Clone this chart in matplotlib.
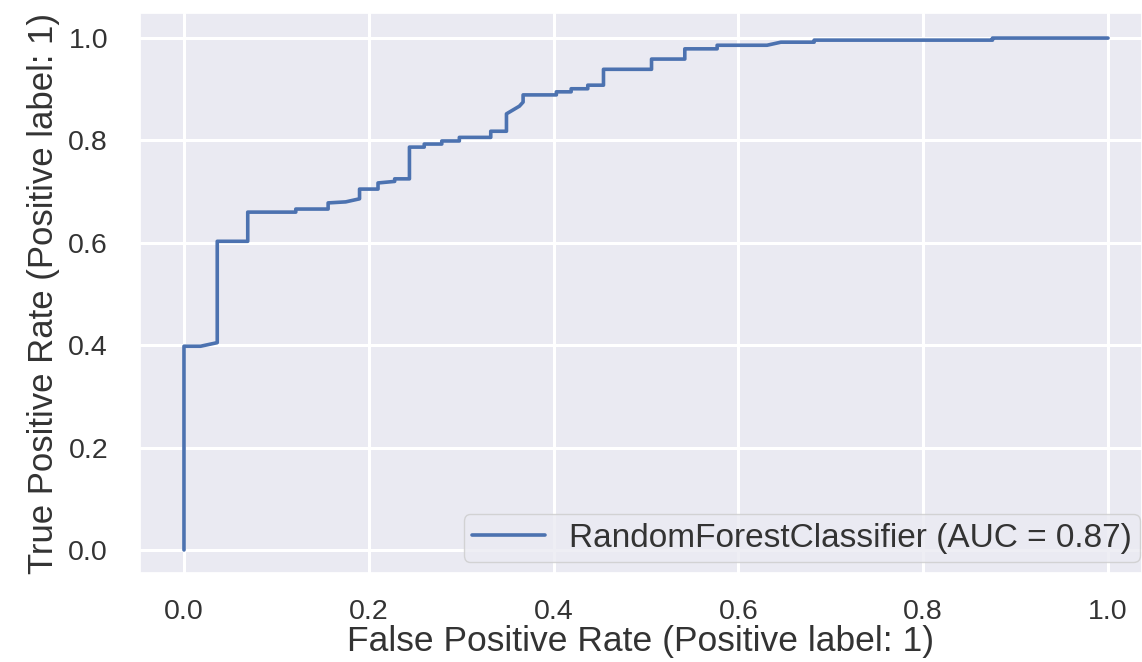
import matplotlib
matplotlib.use("Agg")
import matplotlib.pyplot as plt
import seaborn as sns

# ROC curve (corner points of the steps)
fpr = [0.0, 0.0, 0.018, 0.036, 0.036, 0.069, 0.069, 0.121, 0.121, 0.156, 0.156,
       0.175, 0.190, 0.190, 0.210, 0.210, 0.228, 0.228, 0.244, 0.244, 0.260,
       0.260, 0.279, 0.279, 0.298, 0.298, 0.332, 0.332, 0.349, 0.349, 0.363,
       0.367, 0.367, 0.403, 0.403, 0.419, 0.419, 0.437, 0.437, 0.454, 0.454,
       0.506, 0.506, 0.542, 0.542, 0.577, 0.577, 0.631, 0.646, 0.682, 0.682,
       0.875, 0.875, 1.0]
tpr = [0.0, 0.398, 0.398, 0.405, 0.603, 0.603, 0.660, 0.660, 0.666, 0.666, 0.678,
       0.680, 0.686, 0.705, 0.705, 0.717, 0.720, 0.725, 0.725, 0.787, 0.787,
       0.793, 0.793, 0.799, 0.799, 0.806, 0.806, 0.818, 0.818, 0.852, 0.867,
       0.875, 0.889, 0.889, 0.895, 0.895, 0.901, 0.901, 0.908, 0.908, 0.939,
       0.939, 0.959, 0.959, 0.979, 0.979, 0.986, 0.986, 0.992, 0.992, 0.996,
       0.996, 1.0, 1.0]
auc_value = 0.87
model_name = "RandomForestClassifier"
x_ticks = [0.0, 0.2, 0.4, 0.6, 0.8, 1.0]
y_ticks = [0.0, 0.2, 0.4, 0.6, 0.8, 1.0]

sns.set_theme(style="darkgrid")
plt.rcParams["font.family"] = ["Liberation Sans", "DejaVu Sans"]
txt = "#333333"

fig = plt.figure(figsize=(11.42, 6.62), dpi=100)
ax = fig.add_axes([140 / 1142, 89 / 662, 1002 / 1142, 560 / 662])

ax.plot(fpr, tpr, color="#4c72b0", lw=2.6,
        label=f"{model_name} (AUC = {auc_value:.2f})")

ax.set_xlim(-0.0476, 1.0368)
ax.set_ylim(-0.045, 1.049)
ax.set_xticks(x_ticks)
ax.set_yticks(y_ticks)
ax.tick_params(axis="both", length=0, labelsize=20.5, colors=txt)
ax.tick_params(axis="x", pad=19)
ax.tick_params(axis="y", pad=23)
for g in ax.get_xgridlines() + ax.get_ygridlines():
    g.set_linewidth(2.2)

ax.set_xlabel("False Positive Rate (Positive label: 1)", fontsize=25.5, labelpad=0, color=txt)
ax.set_ylabel("True Positive Rate (Positive label: 1)", fontsize=25, labelpad=6, color=txt)

ax.legend(loc="lower right", bbox_to_anchor=(1 - 2 / 1002, 11 / 560), borderaxespad=0,
          fontsize=24, handlelength=2.2, handletextpad=0.7, borderpad=0.25,
          labelcolor=txt)

fig.savefig("out.png", dpi=100)
